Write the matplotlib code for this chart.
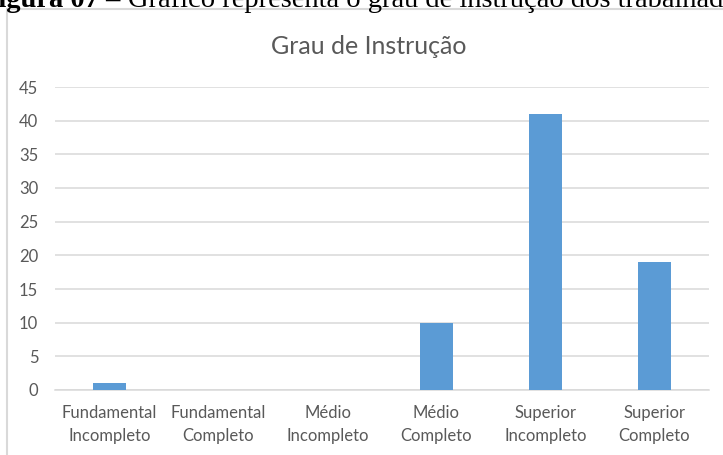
import numpy as np
import matplotlib.pyplot as plt
from matplotlib.patches import Rectangle

categories = ['Fundamental\nIncompleto', 'Fundamental\nCompleto', 'Médio\nIncompleto',
              'Médio\nCompleto', 'Superior\nIncompleto', 'Superior\nCompleto']
values = [1, 0, 0, 10, 41, 19]
y_ticks = [0, 5, 10, 15, 20, 25, 30, 35, 40, 45]

title = 'Grau de Instrução'
caption_bold = 'Figura 07 \u2013 '
caption_rest = 'Gráfico representa o grau de instrução dos trabalhadores'

text_color = '#595959'
grid_color = '#d9d9d9'
bar_color = '#5b9bd5'

plt.rcParams['font.family'] = ['Lato', 'DejaVu Sans']

fig = plt.figure(figsize=(7.23, 4.55), dpi=100)
W, H = 723, 455

# chart frame (Excel chart area border)
frame = Rectangle((7 / W, -0.1), 1.2, 1 - 9 / H + 0.1, transform=fig.transFigure,
                  facecolor='none', edgecolor=grid_color, linewidth=1.5, zorder=0)
fig.patches.append(frame)

# document caption, cut off at the top of the picture
cap = fig.text(-19 / W, 1 - 7 / H, caption_bold, family='Liberation Serif',
               fontweight='bold', fontsize=20.5, va='baseline', ha='left')
fig.canvas.draw()
bb = cap.get_window_extent()
fig.text(bb.x1 / W, 1 - 7 / H, caption_rest, family='Liberation Serif',
         fontsize=20.5, va='baseline', ha='left')

ax = fig.add_axes([55 / W, 1 - 390 / H, (709 - 55) / W, (390 - 87) / H])
ax.set_facecolor('none')

x = np.arange(len(categories))
ax.bar(x, values, width=0.31, color=bar_color, zorder=3)

ax.set_xlim(-0.5, len(categories) - 0.5)
ax.set_ylim(0, 45)
ax.set_yticks(y_ticks)
ax.set_xticks(x)
ax.set_xticklabels(categories, linespacing=1.5)
ax.tick_params(axis='both', length=0, labelsize=12, labelcolor=text_color)
ax.tick_params(axis='y', pad=12)
ax.tick_params(axis='x', pad=11)

ax.grid(axis='y', color=grid_color, linewidth=1.1, zorder=0)
for side in ['top', 'right', 'left']:
    ax.spines[side].set_visible(False)
ax.spines['bottom'].set_color(grid_color)
ax.spines['bottom'].set_linewidth(1.1)

fig.text(369 / W, 1 - 46 / H, title, ha='center', va='center',
         fontsize=18, color=text_color)

fig.savefig('out.png', dpi=100)
